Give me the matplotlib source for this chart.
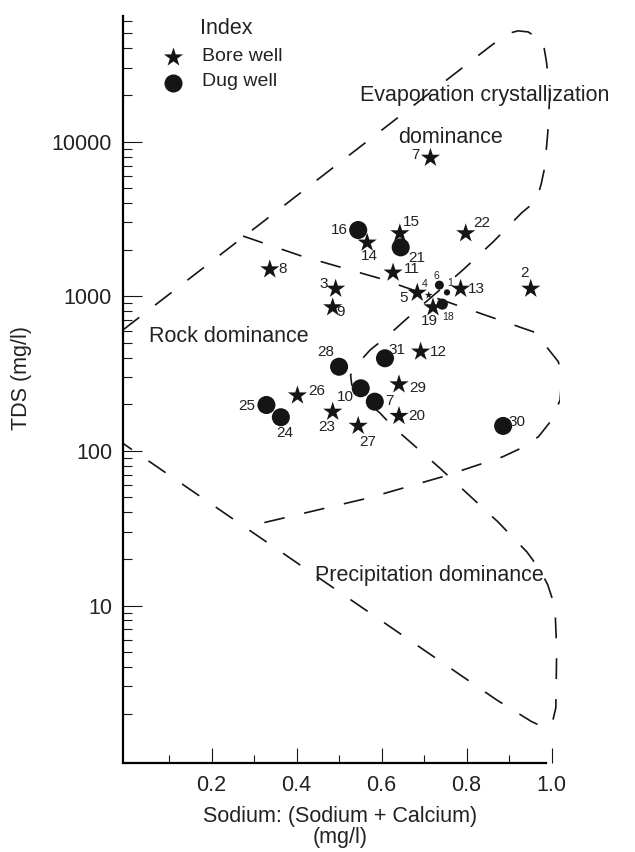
import matplotlib
matplotlib.use("Agg")
import matplotlib.pyplot as plt
from matplotlib.ticker import FixedLocator, NullFormatter, LogLocator

plt.rcParams['font.family'] = ['Liberation Sans', 'DejaVu Sans']

# Na/(Na+Ca) ratio and TDS (mg/l)
bore_ids = ["2", "3", "4", "5", "7", "8", "9", "11", "12", "13",
            "14", "15", "19", "20", "22", "23", "26", "27", "29"]
bore_ratio = [0.951, 0.492, 0.711, 0.684, 0.715, 0.337, 0.485, 0.627, 0.692, 0.786,
              0.566, 0.643, 0.721, 0.641, 0.798, 0.485, 0.402, 0.545, 0.641]
bore_tds = [1117, 1117, 1016, 1052, 7850, 1490, 847, 1420, 438, 1117,
            2220, 2550, 847, 168, 2550, 179, 228, 145, 269]

dug_ids = ["1", "6", "7", "10", "16", "18", "21", "24", "25", "28", "30", "31"]
dug_ratio = [0.754, 0.736, 0.584, 0.551, 0.545, 0.743, 0.645, 0.363, 0.329, 0.500, 0.886, 0.608]
dug_tds = [1059, 1180, 208, 254, 2680, 889, 2070, 165, 198, 350, 145, 397]

# Gibbs boundaries (hand-drawn dashed curves)
outer_ratio = [-0.009, 0.859, 0.898, 0.921, 0.945, 0.980, 0.988, 0.996, 0.991, 0.984,
               0.976, 0.965, 0.929, 0.862, 0.791, 0.682, 0.612, 0.573, 0.541, 0.527,
               0.530, 0.554, 0.596, 0.627, 0.737, 0.874, 0.942, 0.973, 0.991, 1.008,
               1.012, 1.010, 1.001, 0.980, 0.953, 0.871, -0.009]
outer_tds = [604, 42000, 50000, 52000, 51200, 44200, 32800, 20560, 11340, 6840,
             5380, 4182, 3447, 2240, 1476, 814, 547, 449, 359, 309,
             267, 220, 176, 143, 77.4, 34.7, 22.2, 17.0, 13.6, 9.8,
             5.16, 2.18, 1.716, 1.64, 1.775, 2.45, 112]

rock_ratio = [0.274, 0.412, 0.596, 0.957, 0.988, 1.016, 1.024, 1.020, 1.000, 0.969,
              0.929, 0.885, 0.744, 0.568, 0.282]
rock_tds = [2449, 1818, 1303, 589, 471, 377, 296, 213, 158, 123.4,
            104.3, 91.6, 68.1, 49.5, 32.3]

# label offsets (points) and the few markers drawn smaller
bore_off = {"2": (-4.6, 11.1), "3": (-8.9, 3.4), "4": (-3, 8), "5": (-10.1, -4),
            "7": (-10.6, 2.4), "8": (9.1, 0), "9": (5.3, -3.2), "11": (13.2, 2.6),
            "12": (12.5, 0), "13": (11.5, 0), "14": (1.9, -9.6), "15": (8.4, 8.4),
            "19": (-2.9, -9.6), "20": (13, 0), "22": (11.3, 7.2), "23": (-4.3, -10.8),
            "26": (13.7, 3.6), "27": (6.8, -11.3), "29": (13.2, -2.9)}
dug_off = {"1": (1.9, 6.5), "6": (-1.9, 6.5), "7": (10.8, 0.7), "10": (-11.3, -6.5),
           "16": (-13.2, 0), "18": (3.9, -9.1), "21": (11.7, -7.3), "24": (2.9, -11.5),
           "25": (-14, -0.7), "28": (-9.6, 10.8), "30": (10.1, 3.1), "31": (8.9, 6)}
small_ms = {"4": 6, "1": 4.5, "6": 6.5, "18": 8}
small_labels = {"4", "1", "6", "18"}

ink = "#151515"

fig = plt.figure(figsize=(6.35, 8.52), dpi=100)
ax = fig.add_axes([0.194, 0.1045, 0.688, 0.8765])
ax.set_yscale('log')
ax.set_xlim(-0.008, 1.02)
ax.set_ylim(0.959, 64700)

dash = (0, (12.5, 12))
ax.plot(outer_ratio, outer_tds, color=ink, lw=1.2, linestyle=dash, zorder=1)
ax.plot(rock_ratio, rock_tds, color=ink, lw=1.2, linestyle=dash, zorder=1)

bore_s = [small_ms.get(i, 14.5) ** 2 for i in bore_ids]
dug_s = [small_ms.get(i, 13) ** 2 for i in dug_ids]
ax.scatter(bore_ratio, bore_tds, s=bore_s, marker='*', color=ink, linewidths=0, zorder=3)
ax.scatter(dug_ratio, dug_tds, s=dug_s, marker='o', color=ink, linewidths=0, zorder=3)

for ids, xs, ys, offs in [(bore_ids, bore_ratio, bore_tds, bore_off),
                          (dug_ids, dug_ratio, dug_tds, dug_off)]:
    for i, x, y in zip(ids, xs, ys):
        fs = 7.5 if i in small_labels else 11
        ax.annotate(i, (x, y), xytext=offs[i], textcoords='offset points',
                    ha='center', va='center', fontsize=fs, color='#222222', zorder=4)

# region names
txt = dict(fontsize=15.5, color='#222222', ha='left', va='baseline')
ax.text(0.549, 18340, "Evaporation crystallization", **txt)
ax.text(0.639, 9820, "dominance", **txt)
ax.text(0.053, 508, "Rock dominance", **txt)
ax.text(0.443, 14.4, "Precipitation dominance", **txt)

# legend block
ax.text(0.1756, 0.9768, "Index", transform=ax.transAxes, **txt)
ax.scatter([0.113], [0.9455], s=14.5 ** 2, marker='*', color=ink, linewidths=0,
           transform=ax.transAxes, clip_on=False)
ax.scatter([0.113], [0.9107], s=13 ** 2, marker='o', color=ink, linewidths=0,
           transform=ax.transAxes, clip_on=False)
ax.text(0.1794, 0.9465, "Bore well", transform=ax.transAxes, fontsize=14,
        color='#222222', va='center')
ax.text(0.1794, 0.9123, "Dug well", transform=ax.transAxes, fontsize=14,
        color='#222222', va='center')

# axes styling
for side in ['top', 'right']:
    ax.spines[side].set_visible(False)
ax.spines['left'].set_linewidth(1.6)
ax.spines['bottom'].set_linewidth(1.6)
ax.spines['bottom'].set_bounds(-0.008, 0.988)

ax.xaxis.set_major_locator(FixedLocator([0.2, 0.4, 0.6, 0.8, 1.0]))
ax.set_xticklabels(["0.2", "0.4", "0.6", "0.8", "1.0"])
ax.xaxis.set_minor_locator(FixedLocator([0.1, 0.3, 0.5, 0.7, 0.9]))
ax.yaxis.set_major_locator(FixedLocator([10, 100, 1000, 10000]))
ax.set_yticklabels(["10", "100", "1000", "10000"])
ax.yaxis.set_minor_locator(LogLocator(base=10, subs=(2, 3, 4, 5, 6, 7, 8, 9)))
ax.yaxis.set_minor_formatter(NullFormatter())

ax.tick_params(axis='both', which='both', direction='in', width=0.8, colors=ink,
               labelsize=15.5, labelcolor='#222222')
ax.tick_params(axis='y', which='major', length=13.5, pad=8)
ax.tick_params(axis='y', which='minor', length=6.5)
ax.tick_params(axis='x', which='major', length=11, pad=9)
ax.tick_params(axis='x', which='minor', length=6)

fig.text(22 / 635, 1 - 378 / 852, "TDS (mg/l)", rotation=90, ha='center', va='center',
         fontsize=15.5, color='#222222')
fig.text(340 / 635, 1 - 827 / 852, "Sodium: (Sodium + Calcium)\n(mg/l)", ha='center',
         va='center', fontsize=15.5, color='#222222', linespacing=1.05)

fig.savefig("out.png", dpi=100)
